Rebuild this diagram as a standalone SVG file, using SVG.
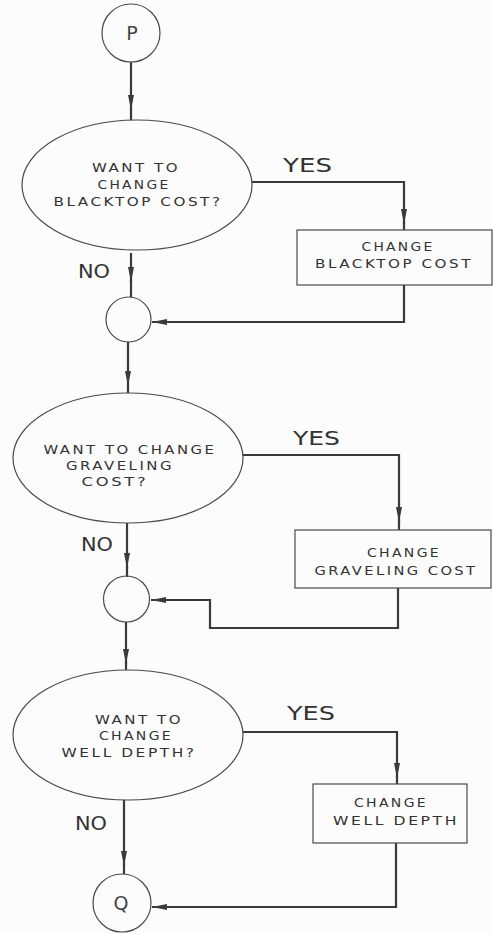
<svg xmlns="http://www.w3.org/2000/svg" width="493" height="934" viewBox="0 0 493 934">
  <style>
    .shape { fill: none; stroke: #4a4a4a; stroke-width: 1.2; }
    .conn { fill: none; stroke: #3a3a3a; stroke-width: 2.2; stroke-linejoin: miter; }
    .lbl { font-family: "DejaVu Sans", "Liberation Sans", sans-serif; font-size: 12px; letter-spacing: 2px; fill: #333; text-anchor: middle; }
    .big { font-family: "DejaVu Sans", "Liberation Sans", sans-serif; font-size: 19px; fill: #333; }
    .term { font-family: "DejaVu Sans", "Liberation Sans", sans-serif; font-size: 19px; fill: #444; text-anchor: middle; }
  </style>
  <defs>
    <marker id="arr" markerUnits="userSpaceOnUse" viewBox="-16 -4 17 8" refX="0" refY="0" markerWidth="17" markerHeight="8" orient="auto">
      <path d="M0,0 L-15,-3 L-15,3 Z" fill="#3a3a3a"/>
    </marker>
  </defs>
  <rect width="493" height="934" fill="#fcfcfc"/>

  <!-- connectors -->
  <g id="connectors">
    <!-- P to first decision -->
    <path class="conn" d="M131,62 L131,110" marker-end="url(#arr)"/>
    <path class="conn" d="M131,108 L131,120"/>
    <!-- blacktop: yes branch -->
    <path class="conn" d="M252,182 L404,182 L404,224" marker-end="url(#arr)"/>
    <path class="conn" d="M404,222 L404,230"/>
    <!-- blacktop: no branch -->
    <path class="conn" d="M131,253 L131,282" marker-end="url(#arr)"/>
    <path class="conn" d="M131,280 L131,297"/>
    <!-- blacktop: return -->
    <path class="conn" d="M404,285 L404,322 L152,322" marker-end="url(#arr)"/>
    <!-- junction to second decision -->
    <path class="conn" d="M128,342 L128,386" marker-end="url(#arr)"/>
    <path class="conn" d="M128,384 L128,393"/>
    <!-- graveling: yes branch -->
    <path class="conn" d="M243,455 L399,455 L399,522" marker-end="url(#arr)"/>
    <path class="conn" d="M399,520 L399,530"/>
    <!-- graveling: no branch -->
    <path class="conn" d="M127,523 L127,568" marker-end="url(#arr)"/>
    <path class="conn" d="M127,566 L127,577"/>
    <!-- graveling: return -->
    <path class="conn" d="M398,588 L398,628 L210,628 L210,600 L151,600" marker-end="url(#arr)"/>
    <!-- junction to third decision -->
    <path class="conn" d="M126,622 L126,664" marker-end="url(#arr)"/>
    <path class="conn" d="M126,662 L126,670"/>
    <!-- well depth: yes branch -->
    <path class="conn" d="M243,732 L397,732 L397,778" marker-end="url(#arr)"/>
    <path class="conn" d="M397,776 L397,784"/>
    <!-- well depth: no branch -->
    <path class="conn" d="M124,800 L124,866" marker-end="url(#arr)"/>
    <path class="conn" d="M124,864 L124,874"/>
    <!-- well depth: return -->
    <path class="conn" d="M396,843 L396,907 L152,907" marker-end="url(#arr)"/>
  </g>

  <!-- branch labels -->
  <g id="labels">
    <text class="big" x="283" y="172" textLength="49" lengthAdjust="spacingAndGlyphs">YES</text>
    <text class="big" x="78" y="278" textLength="32" lengthAdjust="spacingAndGlyphs">NO</text>
    <text class="big" x="293" y="445" textLength="47" lengthAdjust="spacingAndGlyphs">YES</text>
    <text class="big" x="81" y="551" textLength="32" lengthAdjust="spacingAndGlyphs">NO</text>
    <text class="big" x="287" y="720" textLength="48" lengthAdjust="spacingAndGlyphs">YES</text>
    <text class="big" x="75" y="830" textLength="32" lengthAdjust="spacingAndGlyphs">NO</text>
  </g>

  <g id="start-p">
    <circle class="shape" cx="131" cy="33" r="29"/>
    <text class="term" x="132" y="40">P</text>
  </g>

  <g id="ask-blacktop">
    <ellipse class="shape" cx="137" cy="185" rx="115" ry="65"/>
    <text class="lbl" x="136" y="172" textLength="88" lengthAdjust="spacingAndGlyphs">WANT TO</text>
    <text class="lbl" x="134" y="189" textLength="73" lengthAdjust="spacingAndGlyphs">CHANGE</text>
    <text class="lbl" x="138" y="206" textLength="169" lengthAdjust="spacingAndGlyphs">BLACKTOP COST?</text>
  </g>

  <g id="set-blacktop">
    <rect class="shape" x="297" y="230" width="195" height="55"/>
    <text class="lbl" x="398" y="251" textLength="73" lengthAdjust="spacingAndGlyphs">CHANGE</text>
    <text class="lbl" x="394" y="268" textLength="158" lengthAdjust="spacingAndGlyphs">BLACKTOP COST</text>
  </g>

  <g id="join-1">
    <circle class="shape" cx="128.5" cy="319.5" r="22.5"/>
  </g>

  <g id="ask-graveling">
    <ellipse class="shape" cx="128" cy="458" rx="115" ry="65"/>
    <text class="lbl" x="130" y="454" textLength="173" lengthAdjust="spacingAndGlyphs">WANT TO CHANGE</text>
    <text class="lbl" x="120" y="470" textLength="108" lengthAdjust="spacingAndGlyphs">GRAVELING</text>
    <text class="lbl" x="115" y="486" textLength="67" lengthAdjust="spacingAndGlyphs">COST?</text>
  </g>

  <g id="set-graveling">
    <rect class="shape" x="295" y="530" width="196" height="58"/>
    <text class="lbl" x="404" y="557" textLength="74" lengthAdjust="spacingAndGlyphs">CHANGE</text>
    <text class="lbl" x="396" y="575" textLength="163" lengthAdjust="spacingAndGlyphs">GRAVELING COST</text>
  </g>

  <g id="join-2">
    <circle class="shape" cx="126.5" cy="599" r="23"/>
  </g>

  <g id="ask-well-depth">
    <ellipse class="shape" cx="128" cy="735" rx="115" ry="65"/>
    <text class="lbl" x="139" y="724" textLength="88" lengthAdjust="spacingAndGlyphs">WANT TO</text>
    <text class="lbl" x="136" y="740" textLength="74" lengthAdjust="spacingAndGlyphs">CHANGE</text>
    <text class="lbl" x="129" y="757" textLength="135" lengthAdjust="spacingAndGlyphs">WELL DEPTH?</text>
  </g>

  <g id="set-well-depth">
    <rect class="shape" x="313" y="784" width="154" height="59"/>
    <text class="lbl" x="391" y="807" textLength="74" lengthAdjust="spacingAndGlyphs">CHANGE</text>
    <text class="lbl" x="396" y="825" textLength="126" lengthAdjust="spacingAndGlyphs">WELL DEPTH</text>
  </g>

  <g id="end-q">
    <circle class="shape" cx="122" cy="903" r="29"/>
    <text class="term" x="121" y="910">Q</text>
  </g>
</svg>
